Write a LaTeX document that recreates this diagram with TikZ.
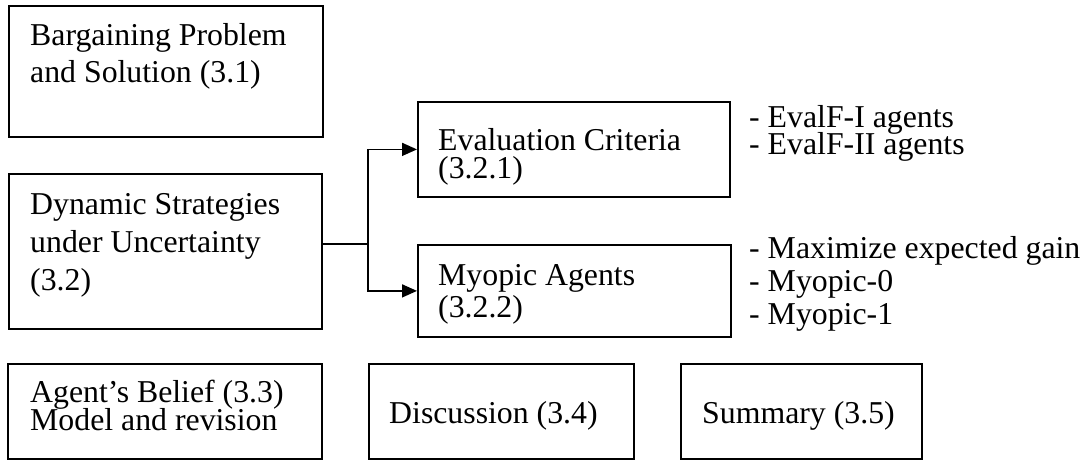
\documentclass[tikz,border=0pt]{standalone}
\usepackage{fontspec}
\setmainfont{Liberation Serif}
\usetikzlibrary{arrows.meta}
% lines of text stacked at an exact baseline distance; the baseline of the block is that of its first line
\newcommand\stackedlines[2]{\vtop{\baselineskip=#1pt\lineskiplimit=-100pt\lineskip=0pt\halign{##\hfil\cr#2\cr}}}
\begin{document}
\begin{tikzpicture}[x=1pt,y=-1pt,
  secbox/.style={draw, line width=1.8pt, anchor=north west, inner sep=0pt},
  label text/.style={anchor=base west, inner sep=0pt, font=\fontsize{31.8}{38}\selectfont},
  link/.style={line width=1.6pt},
  arrowlink/.style={link, -{Triangle[length=15pt,width=13pt]}}]
\useasboundingbox (0,0) rectangle (1086,460);

% section boxes
\node[secbox, minimum width=314pt, minimum height=131pt] (b1) at (8,5) {};
\node[secbox, minimum width=313pt, minimum height=155pt] (b2) at (8,173) {};
\node[secbox, minimum width=312pt, minimum height=95pt] (eval) at (417,101) {};
\node[secbox, minimum width=313pt, minimum height=92pt] (myo) at (417,244) {};
\node[secbox, minimum width=314pt, minimum height=95pt] (belief) at (7,363) {};
\node[secbox, minimum width=265pt, minimum height=95pt] (disc) at (368,363) {};
\node[secbox, minimum width=241pt, minimum height=95pt] (summ) at (680,363) {};

% box texts
\node[label text] (t1) at (30,45.7) {\stackedlines{37}{Bargaining Problem\cr and Solution (3.1)}};
\node[label text] (t2) at (30,214) {\stackedlines{38}{Dynamic Strategies\cr under Uncertainty\cr (3.2)}};
\node[label text] (t3) at (438,150.5) {\stackedlines{28}{Evaluation Criteria\cr (3.2.1)}};
\node[label text] (t4) at (438,285) {\stackedlines{32}{Myopic Agents\cr (3.2.2)}};
\node[label text] (t5) at (30,402) {\stackedlines{28.5}{Agent’s Belief (3.3)\cr Model and revision}};
\node[label text] (t6) at (389,423) {Discussion (3.4)};
\node[label text] (t7) at (702,423) {Summary (3.5)};

% side notes
\node[label text] (n1) at (749,127) {\stackedlines{27}{- EvalF-I agents\cr - EvalF-II agents}};
\node[label text] (n2) at (749,258) {\stackedlines{33}{- Maximize expected gain\cr - Myopic-0\cr - Myopic-1}};

% branching connector
\coordinate (j) at (368,244);
\draw[link] (b2.east |- j) -- (j);
\draw[arrowlink] (j) |- (eval.west);
\draw[arrowlink] (j) |- (myo.west);
\end{tikzpicture}
\end{document}
